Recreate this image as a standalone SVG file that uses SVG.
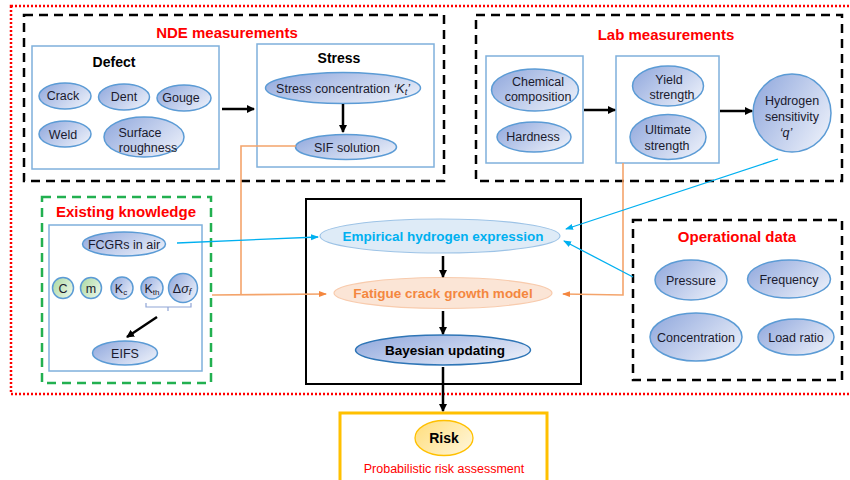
<svg xmlns="http://www.w3.org/2000/svg" width="850" height="480" viewBox="0 0 850 480">
<defs>
<linearGradient id="gb" x1="0" y1="0" x2="1" y2="0.6"><stop offset="0" stop-color="#8ea6dc"/><stop offset="1" stop-color="#e3e9f7"/></linearGradient>
<linearGradient id="gg" x1="0" y1="0" x2="1" y2="0.6"><stop offset="0" stop-color="#a9d8a0"/><stop offset="1" stop-color="#e6f4e2"/></linearGradient>
<linearGradient id="gy" x1="0" y1="0" x2="1" y2="0.6"><stop offset="0" stop-color="#ffdd7a"/><stop offset="1" stop-color="#fff3cf"/></linearGradient>
<marker id="ak" markerWidth="8" markerHeight="8" refX="7" refY="4" orient="auto" markerUnits="userSpaceOnUse"><path d="M0,0 L8,4 L0,8 Z" fill="#000"/></marker>
<marker id="ab" markerWidth="8" markerHeight="8" refX="7" refY="4" orient="auto" markerUnits="userSpaceOnUse"><path d="M0,1 L8,4 L0,7 Z" fill="#00b0f0"/></marker>
<marker id="ao" markerWidth="8" markerHeight="8" refX="7" refY="4" orient="auto" markerUnits="userSpaceOnUse"><path d="M0,1 L8,4 L0,7 Z" fill="#f4873f"/></marker>
</defs>
<style>
text{font-family:"Liberation Sans",Arial,sans-serif;fill:#1a1a2e;text-anchor:middle}
.t{font-size:12.5px}
.h{font-size:15px;font-weight:bold;fill:#ff0000}
.s{font-size:14px;font-weight:bold;fill:#000}
.e{fill:url(#gb);stroke:#5b9bd5;stroke-width:1.5}
.eg{fill:url(#gg);stroke:#5b9bd5;stroke-width:1.5}
.bx{fill:#fff;stroke:#7fb0dc;stroke-width:1.5}
.dk{fill:none;stroke:#000;stroke-width:2.5;stroke-dasharray:9,6}
.k{stroke:#000;stroke-width:2.5;fill:none}
.b{stroke:#00b0f0;stroke-width:1.3;fill:none}
.o{stroke:#f4a46b;stroke-width:1.6;fill:none}
</style>
<rect x="11" y="6" width="845" height="388" fill="none" stroke="#ff0000" stroke-width="2.5" stroke-dasharray="2,2"/>

<g id="nde">
<rect class="dk" x="24" y="15" width="420" height="166"/>
<text class="h" x="227" y="38">NDE measurements</text>
</g>
<g id="defect">
<rect class="bx" x="32" y="46" width="187" height="123"/>
<text class="s" x="114" y="67">Defect</text>
</g>
<g id="crack"><ellipse class="e" cx="65" cy="96" rx="26" ry="13"/><text class="t" x="63" y="100">Crack</text></g>
<g id="dent"><ellipse class="e" cx="124" cy="97" rx="25.5" ry="13"/><text class="t" x="124" y="101">Dent</text></g>
<g id="gouge"><ellipse class="e" cx="184" cy="98" rx="27" ry="13"/><text class="t" x="181" y="102">Gouge</text></g>
<g id="weld"><ellipse class="e" cx="65" cy="134" rx="26" ry="13"/><text class="t" x="63" y="139">Weld</text></g>
<g id="surface"><ellipse class="e" cx="144" cy="137" rx="40" ry="20"/><text class="t" x="140" y="137">Surface</text><text class="t" x="148" y="152">roughness</text></g>

<g id="stress">
<rect class="bx" x="257" y="44" width="177" height="123"/>
<text class="s" x="339" y="63">Stress</text>
</g>
<g id="stressconc"><ellipse class="e" cx="343" cy="88" rx="77.5" ry="15.5"/><text class="t" x="343" y="93">Stress concentration <tspan font-style="italic">‘K<tspan font-size="9" dy="2">t</tspan><tspan dy="-2">’</tspan></tspan></text></g>
<g id="sif"><ellipse class="e" cx="346" cy="147" rx="50.5" ry="12.5"/><text class="t" x="347" y="152">SIF solution</text></g>

<g id="lab">
<rect class="dk" x="476" y="15" width="366" height="166"/>
<text class="h" x="666" y="40">Lab measurements</text>
</g>
<g id="labbox1"><rect class="bx" x="486" y="56" width="97" height="107"/></g>
<g id="chem"><ellipse class="e" cx="535" cy="90" rx="43.5" ry="21"/><text class="t" x="538" y="86">Chemical</text><text class="t" x="538" y="101">composition</text></g>
<g id="hard"><ellipse class="e" cx="534" cy="137" rx="37" ry="15"/><text class="t" x="533" y="141">Hardness</text></g>
<g id="labbox2"><rect class="bx" x="616" y="56" width="103" height="107"/></g>
<g id="yield"><ellipse class="e" cx="668" cy="86" rx="35.5" ry="20"/><text class="t" x="669" y="84">Yield</text><text class="t" x="672" y="99">strength</text></g>
<g id="ult"><ellipse class="e" cx="668" cy="137" rx="38" ry="22.5"/><text class="t" x="668" y="134">Ultimate</text><text class="t" x="667" y="150">strength</text></g>
<g id="hsens"><circle class="e" cx="792" cy="113" r="39"/><text class="t" x="792" y="105">Hydrogen</text><text class="t" x="792" y="121">sensitivity</text><text class="t" x="786" y="137" font-style="italic">‘q’</text></g>

<g id="existing">
<rect x="42" y="197" width="169" height="186" fill="none" stroke="#22b050" stroke-width="2.5" stroke-dasharray="9,6"/>
<text class="h" x="126" y="217">Existing knowledge</text>
<rect class="bx" x="49" y="225" width="153" height="146"/>
</g>
<g id="fcgr"><ellipse class="e" cx="124" cy="244" rx="41.5" ry="12"/><text class="t" x="124" y="249">FCGRs in air</text></g>
<g id="pc"><circle class="eg" cx="63" cy="288" r="10.5"/><text class="t" x="63" y="293">C</text></g>
<g id="pm"><circle class="eg" cx="91" cy="288" r="10.5"/><text class="t" x="91" y="293">m</text></g>
<g id="pkc"><circle class="e" cx="122" cy="288" r="11"/><text class="t" x="121" y="293">K<tspan font-size="8" dy="2">c</tspan></text></g>
<g id="pkth"><circle class="e" cx="152" cy="288" r="11"/><text class="t" x="152" y="293">K<tspan font-size="8" dy="2">th</tspan></text></g>
<g id="pds"><circle class="e" cx="183" cy="288" r="14.5"/><text class="t" x="182" y="293">Δ<tspan font-style="italic">σ</tspan><tspan font-size="9" font-style="italic" dy="2">f</tspan></text></g>
<g id="bracket"><path d="M146,303 v4 h45 v-4 M168,307 v4" fill="none" stroke="#8fa5d6" stroke-width="1.2"/></g>
<g id="eifs"><ellipse class="e" cx="125" cy="353" rx="32.5" ry="12"/><text class="t" x="125" y="358">EIFS</text></g>

<g id="central"><rect x="306" y="199" width="275" height="185" fill="none" stroke="#000" stroke-width="2"/></g>
<g id="emp"><ellipse cx="440" cy="236" rx="120" ry="17" fill="#deebf7" stroke="#9dc3e6" stroke-width="1.2"/><text x="443" y="241" font-size="13.5" font-weight="bold" style="fill:#00b0f0">Empirical hydrogen expression</text></g>
<g id="fcgm"><ellipse cx="443" cy="293" rx="109" ry="15.5" fill="#fbe5d6" stroke="#f8cbad" stroke-width="1.2"/><text x="443" y="298" font-size="13.5" font-weight="bold" style="fill:#f4873f">Fatigue crack growth model</text></g>
<g id="bayes"><ellipse class="e" cx="443" cy="350" rx="87.5" ry="15" style="stroke:#2e75b6"/><text x="445" y="355" font-size="13.5" font-weight="bold" style="fill:#000">Bayesian updating</text></g>

<g id="operational">
<rect class="dk" x="633" y="220" width="209" height="160"/>
<text class="h" x="737" y="242">Operational data</text>
</g>
<g id="pressure"><ellipse class="e" cx="691" cy="280" rx="36" ry="20"/><text class="t" x="691" y="285">Pressure</text></g>
<g id="freq"><ellipse class="e" cx="789" cy="279" rx="41.5" ry="19"/><text class="t" x="789" y="284">Frequency</text></g>
<g id="conc"><ellipse class="e" cx="696" cy="337" rx="46" ry="24"/><text class="t" x="696" y="342">Concentration</text></g>
<g id="load"><ellipse class="e" cx="796" cy="337" rx="38" ry="18"/><text class="t" x="796" y="342">Load ratio</text></g>

<g id="riskbox">
<rect x="340" y="413" width="207" height="70" fill="#fff" stroke="#ffc000" stroke-width="3"/>
<text x="444" y="473" font-size="12.5" style="fill:#ff0000">Probabilistic risk assessment</text>
</g>
<g id="risk"><ellipse cx="444" cy="438" rx="29" ry="17.5" fill="url(#gy)" stroke="#ffc000" stroke-width="1.3"/><text x="444" y="443" font-size="14" font-weight="bold" style="fill:#000">Risk</text></g>

<g id="connectors">
<line class="k" x1="222" y1="109" x2="254" y2="109" marker-end="url(#ak)"/>
<line class="k" x1="343" y1="104" x2="343" y2="132" marker-end="url(#ak)"/>
<line class="k" x1="584" y1="110" x2="615" y2="110" marker-end="url(#ak)"/>
<line class="k" x1="720" y1="111" x2="752" y2="111" marker-end="url(#ak)"/>
<line class="k" x1="157" y1="317" x2="127" y2="337" marker-end="url(#ak)"/>
<line class="k" x1="443" y1="256" x2="443" y2="277" marker-end="url(#ak)"/>
<line class="k" x1="443" y1="311" x2="443" y2="334" marker-end="url(#ak)"/>
<line class="k" x1="443" y1="367" x2="443" y2="411" marker-end="url(#ak)"/>
<polyline class="o" points="296,146 241,146 241,295"/>
<line class="o" x1="212" y1="295" x2="326" y2="294" marker-end="url(#ao)"/>
<polyline class="o" points="623,163 623,295 563,294" marker-end="url(#ao)"/>
<line class="b" x1="177" y1="243" x2="318" y2="237" marker-end="url(#ab)"/>
<line class="b" x1="778" y1="159" x2="566" y2="229" marker-end="url(#ab)"/>
<line class="b" x1="633" y1="277" x2="564" y2="241" marker-end="url(#ab)"/>
</g>
</svg>
